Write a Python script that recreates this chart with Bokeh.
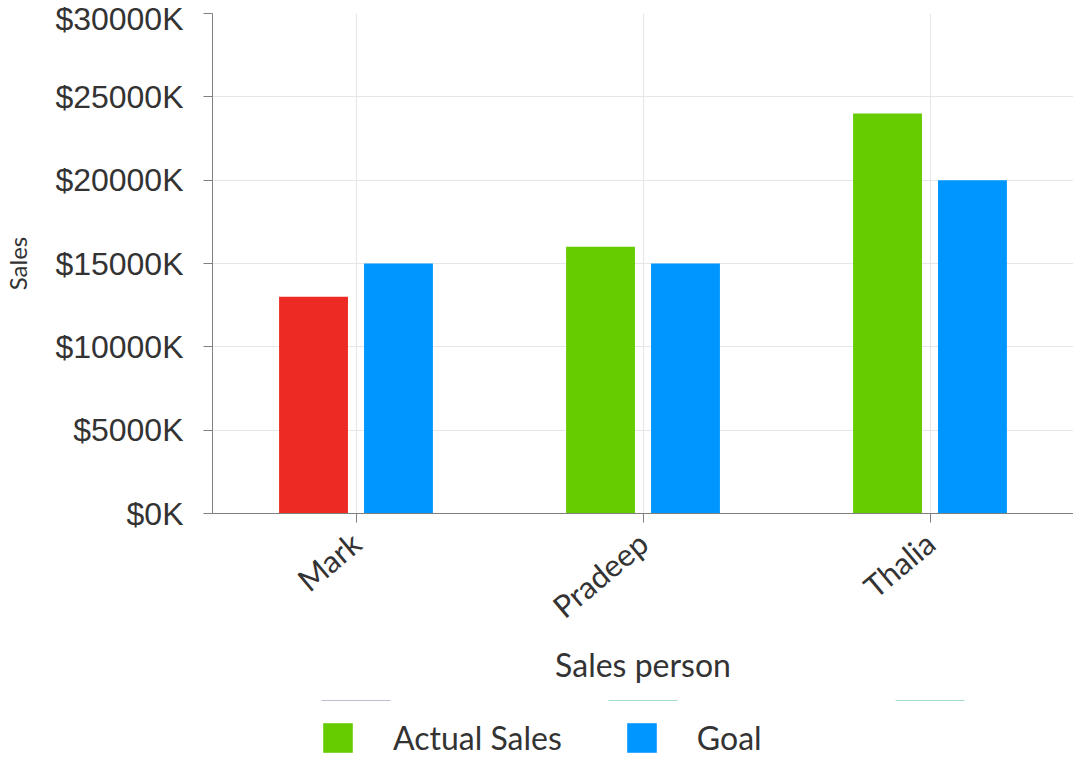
import math
from bokeh.plotting import figure
from bokeh.layouts import column
from bokeh.models import ColumnDataSource, PrintfTickFormatter, Legend, LegendItem, FixedTicker
from bokeh.transform import dodge
from bokeh.embed import file_html
from bokeh.resources import INLINE

people = ["Mark", "Pradeep", "Thalia"]
actual_sales = [13000, 16000, 24000]   # in $K
goal = [15000, 15000, 20000]           # in $K
actual_colors = ["#ee2a24", "#66cc00", "#66cc00"]
goal_color = "#0096ff"
y_ticks = [0, 5000, 10000, 15000, 20000, 25000, 30000]

src = ColumnDataSource(dict(people=people, actual=actual_sales, goal=goal, colors=actual_colors))

FONT = "Lato"
p = figure(x_range=people, y_range=(0, 30000), width=1073, height=700,
           output_backend="svg", toolbar_location=None,
           min_border_left=212, min_border_right=0, min_border_top=13, min_border_bottom=187)
p.outline_line_color = None

r1 = p.vbar(x=dodge("people", -0.148, range=p.x_range), top="actual", width=0.24,
            source=src, fill_color="colors", line_color=None)
r2 = p.vbar(x=dodge("people", 0.148, range=p.x_range), top="goal", width=0.24,
            source=src, fill_color=goal_color, line_color=None)

p.yaxis.ticker = FixedTicker(ticks=y_ticks)
p.yaxis.formatter = PrintfTickFormatter(format="$%dK")
for ax in (p.xaxis[0], p.yaxis[0]):
    ax.axis_line_color = "#808080"
    ax.major_tick_line_color = "#808080"
    ax.major_tick_out = 9
    ax.major_tick_in = 0
    ax.minor_tick_line_color = None
    ax.major_label_text_font = FONT
    ax.major_label_text_font_size = "31px"
    ax.major_label_text_color = "#333333"
    ax.axis_label_text_font = FONT
    ax.axis_label_text_font_style = "normal"
    ax.axis_label_text_color = "#333333"

p.yaxis.major_label_text_font = "Liberation Sans"
p.yaxis.major_label_text_font_size = "32px"
p.yaxis.axis_label = "Sales"
p.yaxis.axis_label_text_font_size = "24px"
p.yaxis.major_label_standoff = 20
p.yaxis.axis_label_standoff = 20

p.xaxis.axis_label = "Sales person"
p.xaxis.axis_label_text_font_size = "32px"
p.xaxis.major_label_orientation = math.radians(40)
p.xaxis.major_label_standoff = 16
p.xaxis.axis_label_standoff = 2

p.xgrid.grid_line_color = "#e6e6e6"
p.ygrid.grid_line_color = "#e6e6e6"

# Legend strip below the chart: its own small figure whose bars have zero height
p2 = figure(x_range=people, y_range=(-2, -1), width=1073, height=57,
            output_backend="svg", toolbar_location=None,
            x_axis_location=None, y_axis_location=None,
            min_border_left=0, min_border_right=0, min_border_top=0, min_border_bottom=0)
p2.outline_line_color = None
p2.grid.visible = False
l1 = p2.vbar(x="people", top="actual", bottom="actual", width=0.24, source=src,
             fill_color="colors", line_color=None)
l2 = p2.vbar(x="people", top="goal", bottom="goal", width=0.24, source=src,
             fill_color=goal_color, line_color=None)

legend = Legend(items=[LegendItem(label="Actual Sales", renderers=[l1], index=1),
                       LegendItem(label="Goal", renderers=[l2])],
                orientation="horizontal", location=(107, 0),
                glyph_width=37, glyph_height=37, label_standoff=37, spacing=61,
                label_text_font=FONT, label_text_font_size="32px", label_text_color="#333333",
                border_line_color=None, background_fill_alpha=0, padding=0, margin=0)
p2.add_layout(legend, "center")

open("out.html", "w").write(file_html(column(p, p2), INLINE))
